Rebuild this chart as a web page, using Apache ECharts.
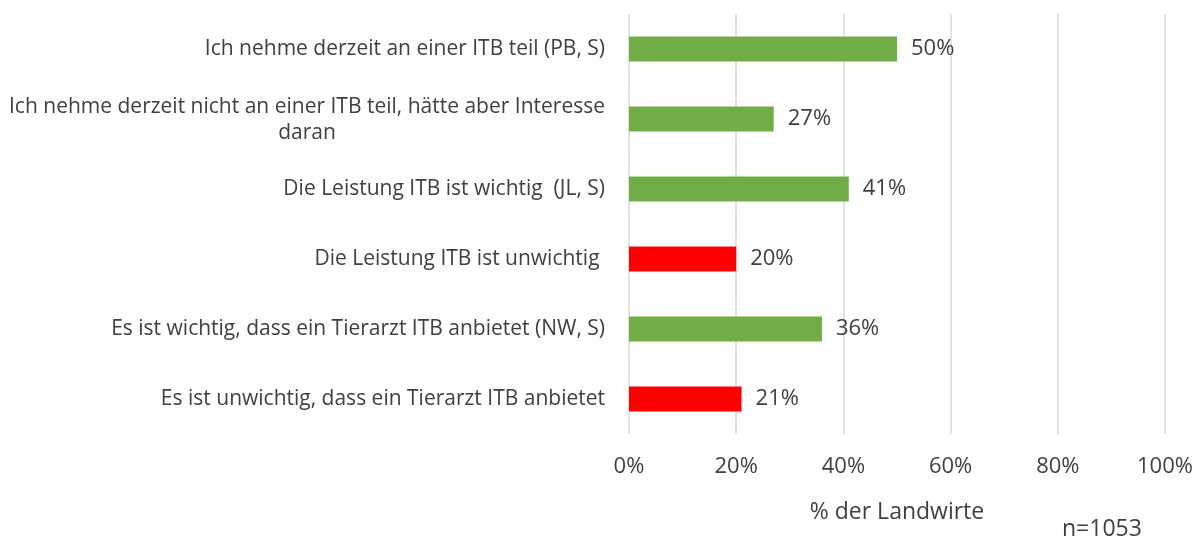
<!DOCTYPE html>
<html>
<head>
<meta charset="utf-8">
<script src="https://cdn.jsdelivr.net/npm/echarts@6/dist/echarts.min.js"></script>
<style>
html,body{margin:0;padding:0;background:#fff;}
#chart{width:1202px;height:540px;}
</style>
</head>
<body>
<div id="chart"></div>
<script>
// Kategorien von oben nach unten
var categories = [
    'Ich nehme derzeit an einer ITB teil (PB, S)',
    'Ich nehme derzeit nicht an einer ITB teil, hätte aber Interesse\ndaran',
    'Die Leistung ITB ist wichtig  (JL, S)',
    'Die Leistung ITB ist unwichtig ',
    'Es ist wichtig, dass ein Tierarzt ITB anbietet (NW, S)',
    'Es ist unwichtig, dass ein Tierarzt ITB anbietet'
];
var values = [50, 27, 41, 20, 36, 21];
var positive = [true, true, true, false, true, false];
var xTicks = [0, 20, 40, 60, 80, 100];

var green = '#70AD47';
var red = '#FF0000';
var textColor = '#404040';
var font = 'Open Sans';

var chart = echarts.init(document.getElementById('chart'));

var data = values.map(function (v, i) {
    return {value: v, itemStyle: {color: positive[i] ? green : red}};
});

var option = {
    backgroundColor: '#fff',
    animation: false,
    grid: {left: 629, right: 37, top: 14, bottom: 106, containLabel: false},
    xAxis: {
        type: 'value',
        min: xTicks[0],
        max: xTicks[xTicks.length - 1],
        interval: 20,
        name: '% der Landwirte',
        nameLocation: 'middle',
        nameGap: 67,
        nameTextStyle: {color: textColor, fontSize: 23, fontFamily: font},
        axisLine: {show: false},
        axisTick: {show: false},
        axisLabel: {
            color: textColor, fontSize: 22, fontFamily: font, margin: 22,
            formatter: function (v) { return v + '%'; }
        },
        splitLine: {show: true, lineStyle: {color: '#D9D9D9', width: 1.5}}
    },
    yAxis: {
        type: 'category',
        inverse: true,
        data: categories,
        axisLine: {show: false},
        axisTick: {show: false},
        axisLabel: {
            color: textColor, fontSize: 21, fontFamily: font, margin: 24,
            formatter: function (v) {
                var parts = v.split('\n');
                if (parts.length === 1) return v;
                return '{a|' + parts[0] + '}\n{b|' + parts[1] + '}';
            },
            rich: {
                a: {color: textColor, fontSize: 21, fontFamily: font, lineHeight: 29, padding: [6, 0, 0, 0]},
                b: {color: textColor, fontSize: 21, fontFamily: font, lineHeight: 29, align: 'center'}
            }
        }
    },
    series: [{
        type: 'bar',
        data: data,
        barWidth: 25,
        label: {
            show: true,
            position: 'right',
            distance: 14,
            color: textColor,
            fontSize: 22,
            fontFamily: font,
            formatter: '{c}%'
        }
    }],
    graphic: [{
        type: 'text',
        left: 1062,
        top: 518,
        style: {text: 'n=1053', fill: textColor, fontSize: 23, fontFamily: font}
    }]
};

chart.setOption(option);
</script>
</body>
</html>
